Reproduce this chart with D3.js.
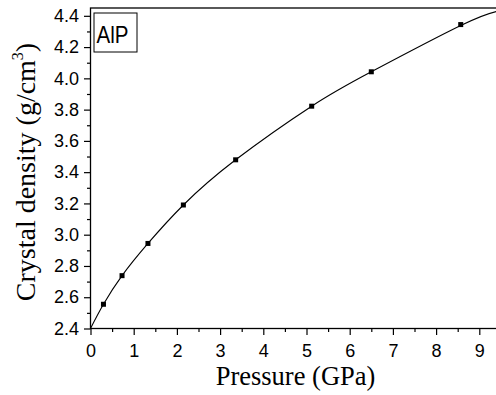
<!DOCTYPE html>
<html>
<head>
<meta charset="utf-8">
<script src="https://cdn.jsdelivr.net/npm/d3@7"></script>
<style>
  body { margin: 0; background: #fff; }
  svg { display: block; }
</style>
</head>
<body>
<svg width="496" height="395"></svg>
<script>
// measured points
const pressure = [0.3, 0.73, 1.33, 2.15, 3.36, 5.12, 6.5, 8.57];
const density = [2.555, 2.738, 2.944, 3.19, 3.479, 3.822, 4.042, 4.344];

// fitted curve
const fitPressure = [0, 0.3, 0.73, 1.33, 2.15, 3.36, 5.12, 6.5, 8.57, 9.4];
const fitDensity = [2.4, 2.555, 2.738, 2.944, 3.19, 3.479, 3.822, 4.042, 4.338, 4.428];

const xTicks = [0, 1, 2, 3, 4, 5, 6, 7, 8, 9];
const yTicks = [2.4, 2.6, 2.8, 3.0, 3.2, 3.4, 3.6, 3.8, 4.0, 4.2, 4.4];

const plotLeft = 90.5, plotRight = 497, plotTop = 8, plotBottom = 328.5;

let svg = d3.select("svg");

let x = d3.scaleLinear().domain([0, 9.4]).range([plotLeft, plotLeft + 9.4 * 43.2]);
let y = d3.scaleLinear().domain([2.4, 4.45]).range([plotBottom, plotTop]);

// frame
svg.append("rect")
  .attr("x", plotLeft).attr("y", plotTop)
  .attr("width", plotRight - plotLeft).attr("height", plotBottom - plotTop)
  .attr("fill", "none").attr("stroke", "#000").attr("stroke-width", 1.3);

// minor ticks
let xMinor = d3.range(0.5, 9.4, 1);
let yMinor = d3.range(2.5, 4.45, 0.2);

svg.append("g")
  .attr("transform", `translate(0,${plotBottom})`)
  .call(d3.axisBottom(x).tickValues(xMinor).tickSize(3.5).tickFormat(""))
  .call((g) => g.select(".domain").remove());

svg.append("g")
  .attr("transform", `translate(${plotLeft},0)`)
  .call(d3.axisLeft(y).tickValues(yMinor).tickSize(3.5).tickFormat(""))
  .call((g) => g.select(".domain").remove());

// major axes
let xAxis = svg.append("g")
  .attr("transform", `translate(0,${plotBottom})`)
  .call(d3.axisBottom(x).tickValues(xTicks).tickSize(6.5).tickPadding(9).tickFormat(d3.format("d")));
xAxis.select(".domain").remove();

let yAxis = svg.append("g")
  .attr("transform", `translate(${plotLeft},0)`)
  .call(d3.axisLeft(y).tickValues(yTicks).tickSize(6.5).tickPadding(5).tickFormat(d3.format(".1f")));
yAxis.select(".domain").remove();

svg.selectAll(".tick line").attr("stroke", "#000").attr("stroke-width", 1.2);
svg.selectAll(".tick text")
  .attr("font-family", "'Liberation Sans', Arial, sans-serif")
  .attr("font-size", 18)
  .attr("fill", "#000");

// fit line
let line = d3.line()
  .x((d, i) => x(fitPressure[i]))
  .y((d, i) => y(fitDensity[i]))
  .curve(d3.curveNatural);

svg.append("path")
  .datum(fitPressure)
  .attr("d", line)
  .attr("fill", "none")
  .attr("stroke", "#000")
  .attr("stroke-width", 1.1);

// square markers
svg.selectAll(".pt")
  .data(pressure)
  .enter()
  .append("rect")
  .attr("class", "pt")
  .attr("x", (d) => x(d) - 2.5)
  .attr("y", (d, i) => y(density[i]) - 2.5)
  .attr("width", 5)
  .attr("height", 5)
  .attr("fill", "#000");

// label box
svg.append("rect")
  .attr("x", 94).attr("y", 13)
  .attr("width", 43).attr("height", 39)
  .attr("fill", "#fff").attr("stroke", "#000").attr("stroke-width", 1);

svg.append("text")
  .attr("x", 96.5).attr("y", 42.5)
  .attr("font-family", "'Liberation Sans', Arial, sans-serif")
  .attr("font-size", 24)
  .attr("textLength", 32)
  .attr("lengthAdjust", "spacingAndGlyphs")
  .text("AlP");

// axis titles
svg.append("text")
  .attr("x", 295.5).attr("y", 385)
  .attr("text-anchor", "middle")
  .attr("font-family", "'Liberation Serif', 'Times New Roman', serif")
  .attr("font-size", 26.5)
  .text("Pressure (GPa)");

let yTitle = svg.append("text")
  .attr("transform", "translate(35,172) rotate(-90)")
  .attr("text-anchor", "middle")
  .attr("font-family", "'Liberation Serif', 'Times New Roman', serif")
  .attr("font-size", 28);
yTitle.append("tspan").text("Crystal density (g/cm");
yTitle.append("tspan").attr("font-size", 16).attr("dy", -12).text("3");
yTitle.append("tspan").attr("dy", 12).text(")");
</script>
</body>
</html>
